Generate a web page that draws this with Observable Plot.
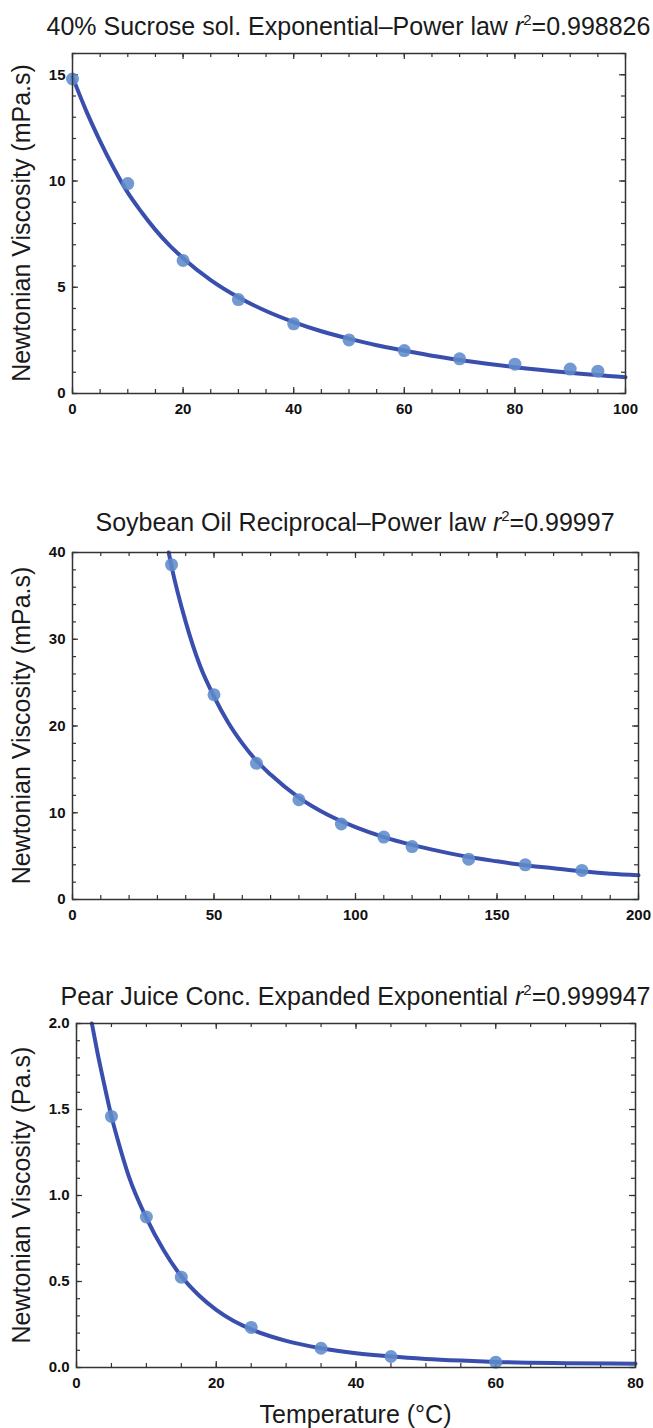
<!DOCTYPE html>
<html><head><meta charset="utf-8">
<script src="https://cdn.jsdelivr.net/npm/d3@7"></script>
<script src="https://cdn.jsdelivr.net/npm/@observablehq/plot@0.6"></script>
<style>
body{margin:0;background:#fff;} svg{display:block;}
svg g[aria-label="x-axis tick label"] text, svg g[aria-label="y-axis tick label"] text {font-size:15px; font-weight:bold; fill:#111;}
</style>
</head><body><div id="chart"></div>
<script>
// ---- Panel 1: 40% Sucrose solution ----
const sucroseT    = [0, 10, 20, 30, 40, 50, 60, 70, 80, 90, 95];
const sucroseVisc = [14.8, 9.88, 6.26, 4.42, 3.28, 2.52, 2.02, 1.63, 1.38, 1.15, 1.05];
const sucroseFitT    = [0, 2.5, 5, 7.5, 10, 12.5, 15, 17.5, 20, 25, 30, 35, 40, 45, 50, 55, 60, 65, 70, 75, 80, 90, 100];
const sucroseFitVisc = [14.9, 13.29, 11.87, 10.59, 9.45, 8.53, 7.70, 6.98, 6.37, 5.34, 4.53, 3.88, 3.36, 2.93, 2.58, 2.27, 2.02, 1.78, 1.58, 1.40, 1.24, 0.98, 0.77];
const sucroseXTicks = [0, 20, 40, 60, 80, 100];
const sucroseYTicks = [0, 5, 10, 15];

// ---- Panel 2: Soybean oil ----
const soyT    = [35, 50, 65, 80, 95, 110, 120, 140, 160, 180];
const soyVisc = [38.6, 23.6, 15.7, 11.5, 8.7, 7.2, 6.1, 4.65, 4.0, 3.35];
const soyFitT    = [34, 35, 40, 45, 50, 55, 60, 65, 70, 80, 90, 100, 110, 120, 130, 140, 150, 160, 170, 180, 190, 200];
const soyFitVisc = [40, 38.4, 32.0, 27.0, 23.4, 20.4, 18.0, 16.0, 14.4, 11.75, 9.8, 8.35, 7.2, 6.3, 5.55, 4.9, 4.4, 3.95, 3.6, 3.25, 2.97, 2.8];
const soyXTicks = [0, 50, 100, 150, 200];
const soyYTicks = [0, 10, 20, 30, 40];

// ---- Panel 3: Pear juice concentrate ----
const pearT    = [5, 10, 15, 25, 35, 45, 60];
const pearVisc = [1.46, 0.875, 0.525, 0.233, 0.112, 0.064, 0.031];
const pearFitT    = [2.2, 3, 4, 5, 6, 7.5, 10, 12.5, 15, 17.5, 20, 22.5, 25, 30, 35, 40, 45, 50, 55, 60, 70, 80];
const pearFitVisc = [2.0, 1.83, 1.64, 1.46, 1.31, 1.11, 0.87, 0.68, 0.53, 0.42, 0.335, 0.27, 0.222, 0.155, 0.112, 0.083, 0.064, 0.05, 0.04, 0.032, 0.025, 0.022];
const pearXTicks = [0, 20, 40, 60, 80];
const pearYTicks = [0, 0.5, 1.0, 1.5, 2.0];

const FONT = "'Liberation Sans', Arial, Helvetica, sans-serif";
const AXIS = "#333";
const LINE = "#3a4fad";
const DOT = "#5e8bcb";

const panels = [
  {title: "40% Sucrose sol. Exponential\u2013Power law ", r2: "0.998826", ylabel: "Newtonian Viscosity (mPa.s)",
   T: sucroseT, V: sucroseVisc, FT: sucroseFitT, FV: sucroseFitVisc,
   xDomain: [0, 100], yDomain: [0, 16], xTicks: sucroseXTicks, yTicks: sucroseYTicks, xMinorStep: 5, yMinorStep: 1,
   yFormat: d3.format("d"), height: 470, mt: 53, mb: 77, ml: 72, mr: 28, titleY: 35},
  {title: "Soybean Oil Reciprocal\u2013Power law ", r2: "0.99997", ylabel: "Newtonian Viscosity (mPa.s)",
   T: soyT, V: soyVisc, FT: soyFitT, FV: soyFitVisc,
   xDomain: [0, 200], yDomain: [0, 40], xTicks: soyXTicks, yTicks: soyYTicks, xMinorStep: 10, yMinorStep: 2,
   yFormat: d3.format("d"), height: 490, mt: 82, mb: 61, ml: 72, mr: 15, titleY: 61},
  {title: "Pear Juice Conc. Expanded Exponential ", r2: "0.999947", ylabel: "Newtonian Viscosity (Pa.s)",
   T: pearT, V: pearVisc, FT: pearFitT, FV: pearFitVisc,
   xDomain: [0, 80], yDomain: [0, 2], xTicks: pearXTicks, yTicks: pearYTicks, xMinorStep: 5, yMinorStep: 0.1,
   yFormat: d3.format(".1f"), height: 468, mt: 63, mb: 61, ml: 76, mr: 18, titleY: 45, xlabel: "Temperature (\u00b0C)"}
];

const root = document.getElementById("chart");

for (const p of panels) {
  const W = 653;
  const innerW = W - p.ml - p.mr;
  const innerH = p.height - p.mt - p.mb;
  const pts = p.T.map((t, i) => ({t, v: p.V[i]}));
  const fit = p.FT.map((t, i) => ({t, v: p.FV[i]}));
  const nx = Math.round((p.xDomain[1] - p.xDomain[0]) / p.xMinorStep);
  const ny = Math.round((p.yDomain[1] - p.yDomain[0]) / p.yMinorStep);
  const xMinor = d3.range(nx + 1).map(i => p.xDomain[0] + i * p.xMinorStep);
  const yMinor = d3.range(ny + 1).map(i => +(p.yDomain[0] + i * p.yMinorStep).toFixed(4));
  const tk = {stroke: AXIS, strokeWidth: 1.2};
  const MAJ = 6, MIN = 4;

  const svg = Plot.plot({
    width: W, height: p.height,
    marginTop: p.mt, marginBottom: p.mb, marginLeft: p.ml, marginRight: p.mr,
    style: {fontFamily: FONT, background: "white", color: "#111", fontSize: "15px"},
    x: {domain: p.xDomain},
    y: {domain: p.yDomain},
    marks: [
      Plot.ruleX(xMinor, {...tk, insetTop: innerH - MIN}),
      Plot.ruleX(xMinor, {...tk, insetBottom: innerH - MIN}),
      Plot.ruleX(p.xTicks, {...tk, insetTop: innerH - MAJ}),
      Plot.ruleX(p.xTicks, {...tk, insetBottom: innerH - MAJ}),
      Plot.ruleY(yMinor, {...tk, insetRight: innerW - MIN}),
      Plot.ruleY(yMinor, {...tk, insetLeft: innerW - MIN}),
      Plot.ruleY(p.yTicks, {...tk, insetRight: innerW - MAJ}),
      Plot.ruleY(p.yTicks, {...tk, insetLeft: innerW - MAJ}),
      Plot.line(fit, {x: "t", y: "v", stroke: LINE, strokeWidth: 4, curve: "monotone-x"}),
      Plot.dot(pts, {x: "t", y: "v", r: 6.5, fill: DOT, fillOpacity: 0.88, stroke: "none"}),
      Plot.frame({stroke: AXIS, strokeWidth: 1.5}),
      Plot.axisX({ticks: p.xTicks, tickSize: 0, tickPadding: 10, label: null, fontSize: 15, fontWeight: "bold", tickFormat: d3.format("d")}),
      Plot.axisY({ticks: p.yTicks, tickSize: 0, tickPadding: 7, label: null, fontSize: 15, fontWeight: "bold", tickFormat: p.yFormat})
    ]
  });

  const s = d3.select(svg);
  const cx = p.ml + innerW / 2;
  const cy = p.mt + innerH / 2;
  const t = s.append("text").attr("x", cx).attr("y", p.titleY).attr("text-anchor", "middle")
    .attr("font-family", FONT).attr("font-size", 25).attr("font-weight", "normal").attr("fill", "#1a1a1a");
  t.append("tspan").text(p.title);
  t.append("tspan").attr("font-style", "italic").text("r");
  t.append("tspan").attr("font-size", 15).attr("dy", -10).text("2");
  t.append("tspan").attr("dy", 10).text("=" + p.r2);

  s.append("text").attr("transform", `translate(30,${cy}) rotate(-90)`).attr("text-anchor", "middle")
    .attr("font-family", FONT).attr("font-size", 25).attr("font-weight", "normal").attr("fill", "#1a1a1a").text(p.ylabel);

  if (p.xlabel) {
    s.append("text").attr("x", cx).attr("y", p.height - 5).attr("text-anchor", "middle")
      .attr("font-family", FONT).attr("font-size", 25).attr("font-weight", "normal").attr("fill", "#1a1a1a").text(p.xlabel);
  }
  root.appendChild(svg);
}
</script>
</body></html>
